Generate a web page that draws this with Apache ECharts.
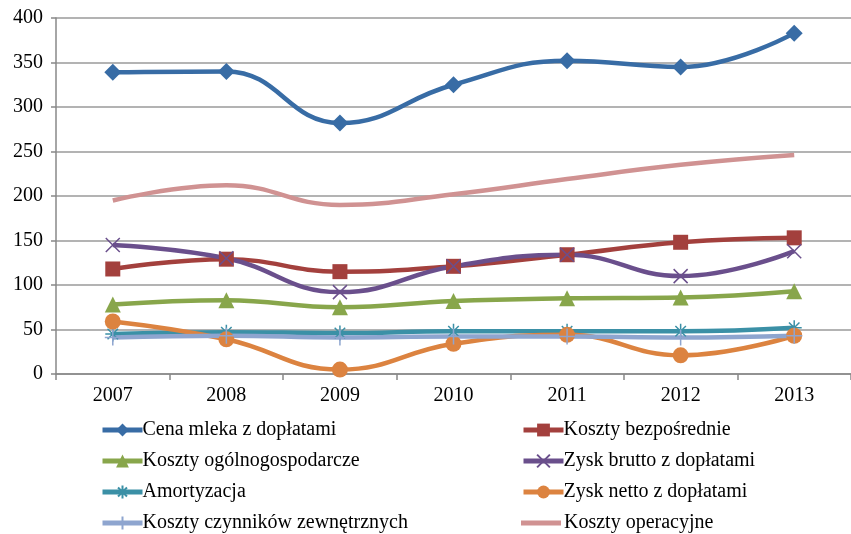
<!DOCTYPE html>
<html><head><meta charset="utf-8">
<script src="https://cdn.jsdelivr.net/npm/echarts@6/dist/echarts.min.js"></script>
<style>html,body{margin:0;padding:0;background:#fff}#c{width:851px;height:534px}</style>
</head><body><div id="c"></div>
<script>
const years = ['2007','2008','2009','2010','2011','2012','2013'];
const cenaMleka = [339, 340, 282, 325, 352, 345, 383];
const kosztyBezposrednie = [118, 129, 115, 121, 134, 148, 153];
const kosztyOgolno = [78, 83, 75, 82, 85, 86, 93];
const zyskBrutto = [145, 130, 92, 121, 134, 110, 138];
const amortyzacja = [45, 47, 46, 48, 48, 48, 52];
const zyskNetto = [59, 39, 5, 34, 44, 21, 43];
const kosztyCzynnikow = [41, 43, 41, 42, 42, 41, 43];
const kosztyOperacyjne = [195, 212, 190, 202, 219, 235, 246];
const yTicks = {min: 0, max: 400, interval: 50};

const FONT = 'Liberation Serif';
const X_PATH = 'path://M0,0L10,10M10,0L0,10';
const AST_PATH = 'path://M5,0L5,10M0,5L10,5M1.5,1.5L8.5,8.5M8.5,1.5L1.5,8.5';
const PLUS_PATH = 'path://M5,0L5,10M2,5L8,5';

function filled(name, data, color, symbol, size) {
  return {name, type: 'line', data, smooth: 0.45, symbol, symbolSize: size,
    lineStyle: {color, width: 4.5}, itemStyle: {color}, z: 3};
}
function stroked(name, data, color, symbol, size, bw) {
  return {name, type: 'line', data, smooth: 0.45, symbol, symbolSize: size,
    lineStyle: {color, width: 4.5}, itemStyle: {color: 'rgba(0,0,0,0)', borderColor: color, borderWidth: bw}, z: 3};
}

const series = [
  filled('Cena mleka z dopłatami', cenaMleka, '#386ca5', 'diamond', 17),
  filled('Koszty bezpośrednie', kosztyBezposrednie, '#a3403d', 'rect', 15),
  filled('Koszty ogólnogospodarcze', kosztyOgolno, '#88a64b', 'triangle', 16),
  stroked('Zysk brutto z dopłatami', zyskBrutto, '#6a4f8c', X_PATH, 14, 1.5),
  stroked('Amortyzacja', amortyzacja, '#3b90a6', AST_PATH, 15, 1.5),
  filled('Zysk netto z dopłatami', zyskNetto, '#dc8340', 'circle', 16),
  stroked('Koszty czynników zewnętrznych', kosztyCzynnikow, '#8ea5cf', PLUS_PATH, 16, 1.5),
  {name: 'Koszty operacyjne', type: 'line', data: kosztyOperacyjne, smooth: 0.45, symbol: 'none',
    lineStyle: {color: '#d09292', width: 4.5}, itemStyle: {color: '#d09292'}, z: 2}
];

const legendRows = [
  ['Cena mleka z dopłatami', 'Koszty bezpośrednie'],
  ['Koszty ogólnogospodarcze', 'Zysk brutto z dopłatami'],
  ['Amortyzacja', 'Zysk netto z dopłatami'],
  ['Koszty czynników zewnętrznych', 'Koszty operacyjne']
];
const rowCenters = [430, 461, 492, 523];
const colLefts = [100, 521];
const legends = [];
legendRows.forEach((row, r) => row.forEach((name, c) => {
  const lineOnly = name === 'Koszty operacyjne';
  legends.push({left: colLefts[c], top: rowCenters[r] - 10, data: [lineOnly ? {name, icon: 'path://M0,0L40,0L40,5L0,5Z'} : name], padding: 0,
    itemWidth: 40, itemHeight: lineOnly ? 5 : 16, selectedMode: false,
    lineStyle: {width: 5},
    textStyle: {fontFamily: FONT, fontSize: 20, color: '#000', padding: [0,0,0,lineOnly ? -2 : -5]}});
}));

const chart = echarts.init(document.getElementById('c'), null, {renderer: 'canvas'});
chart.setOption({
  animation: false,
  backgroundColor: '#fff',
  grid: {left: 56, top: 18, width: 799, height: 356, containLabel: false},
  legend: legends,
  xAxis: {type: 'category', data: years, boundaryGap: true,
    axisLine: {lineStyle: {color: '#888', width: 1.5}},
    axisTick: {show: true, alignWithLabel: false, length: 6, lineStyle: {color: '#888', width: 1.5}},
    axisLabel: {fontFamily: FONT, fontSize: 20, color: '#000', margin: 12}},
  yAxis: {type: 'value', min: yTicks.min, max: yTicks.max, interval: yTicks.interval,
    axisLine: {show: true, lineStyle: {color: '#888', width: 1.5}},
    axisTick: {show: true, length: 5, lineStyle: {color: '#888', width: 1.5}},
    splitLine: {lineStyle: {color: '#9a9a9a', width: 1.5}},
    axisLabel: {fontFamily: FONT, fontSize: 20, color: '#000', margin: 13}},
  series
});
</script></body></html>
